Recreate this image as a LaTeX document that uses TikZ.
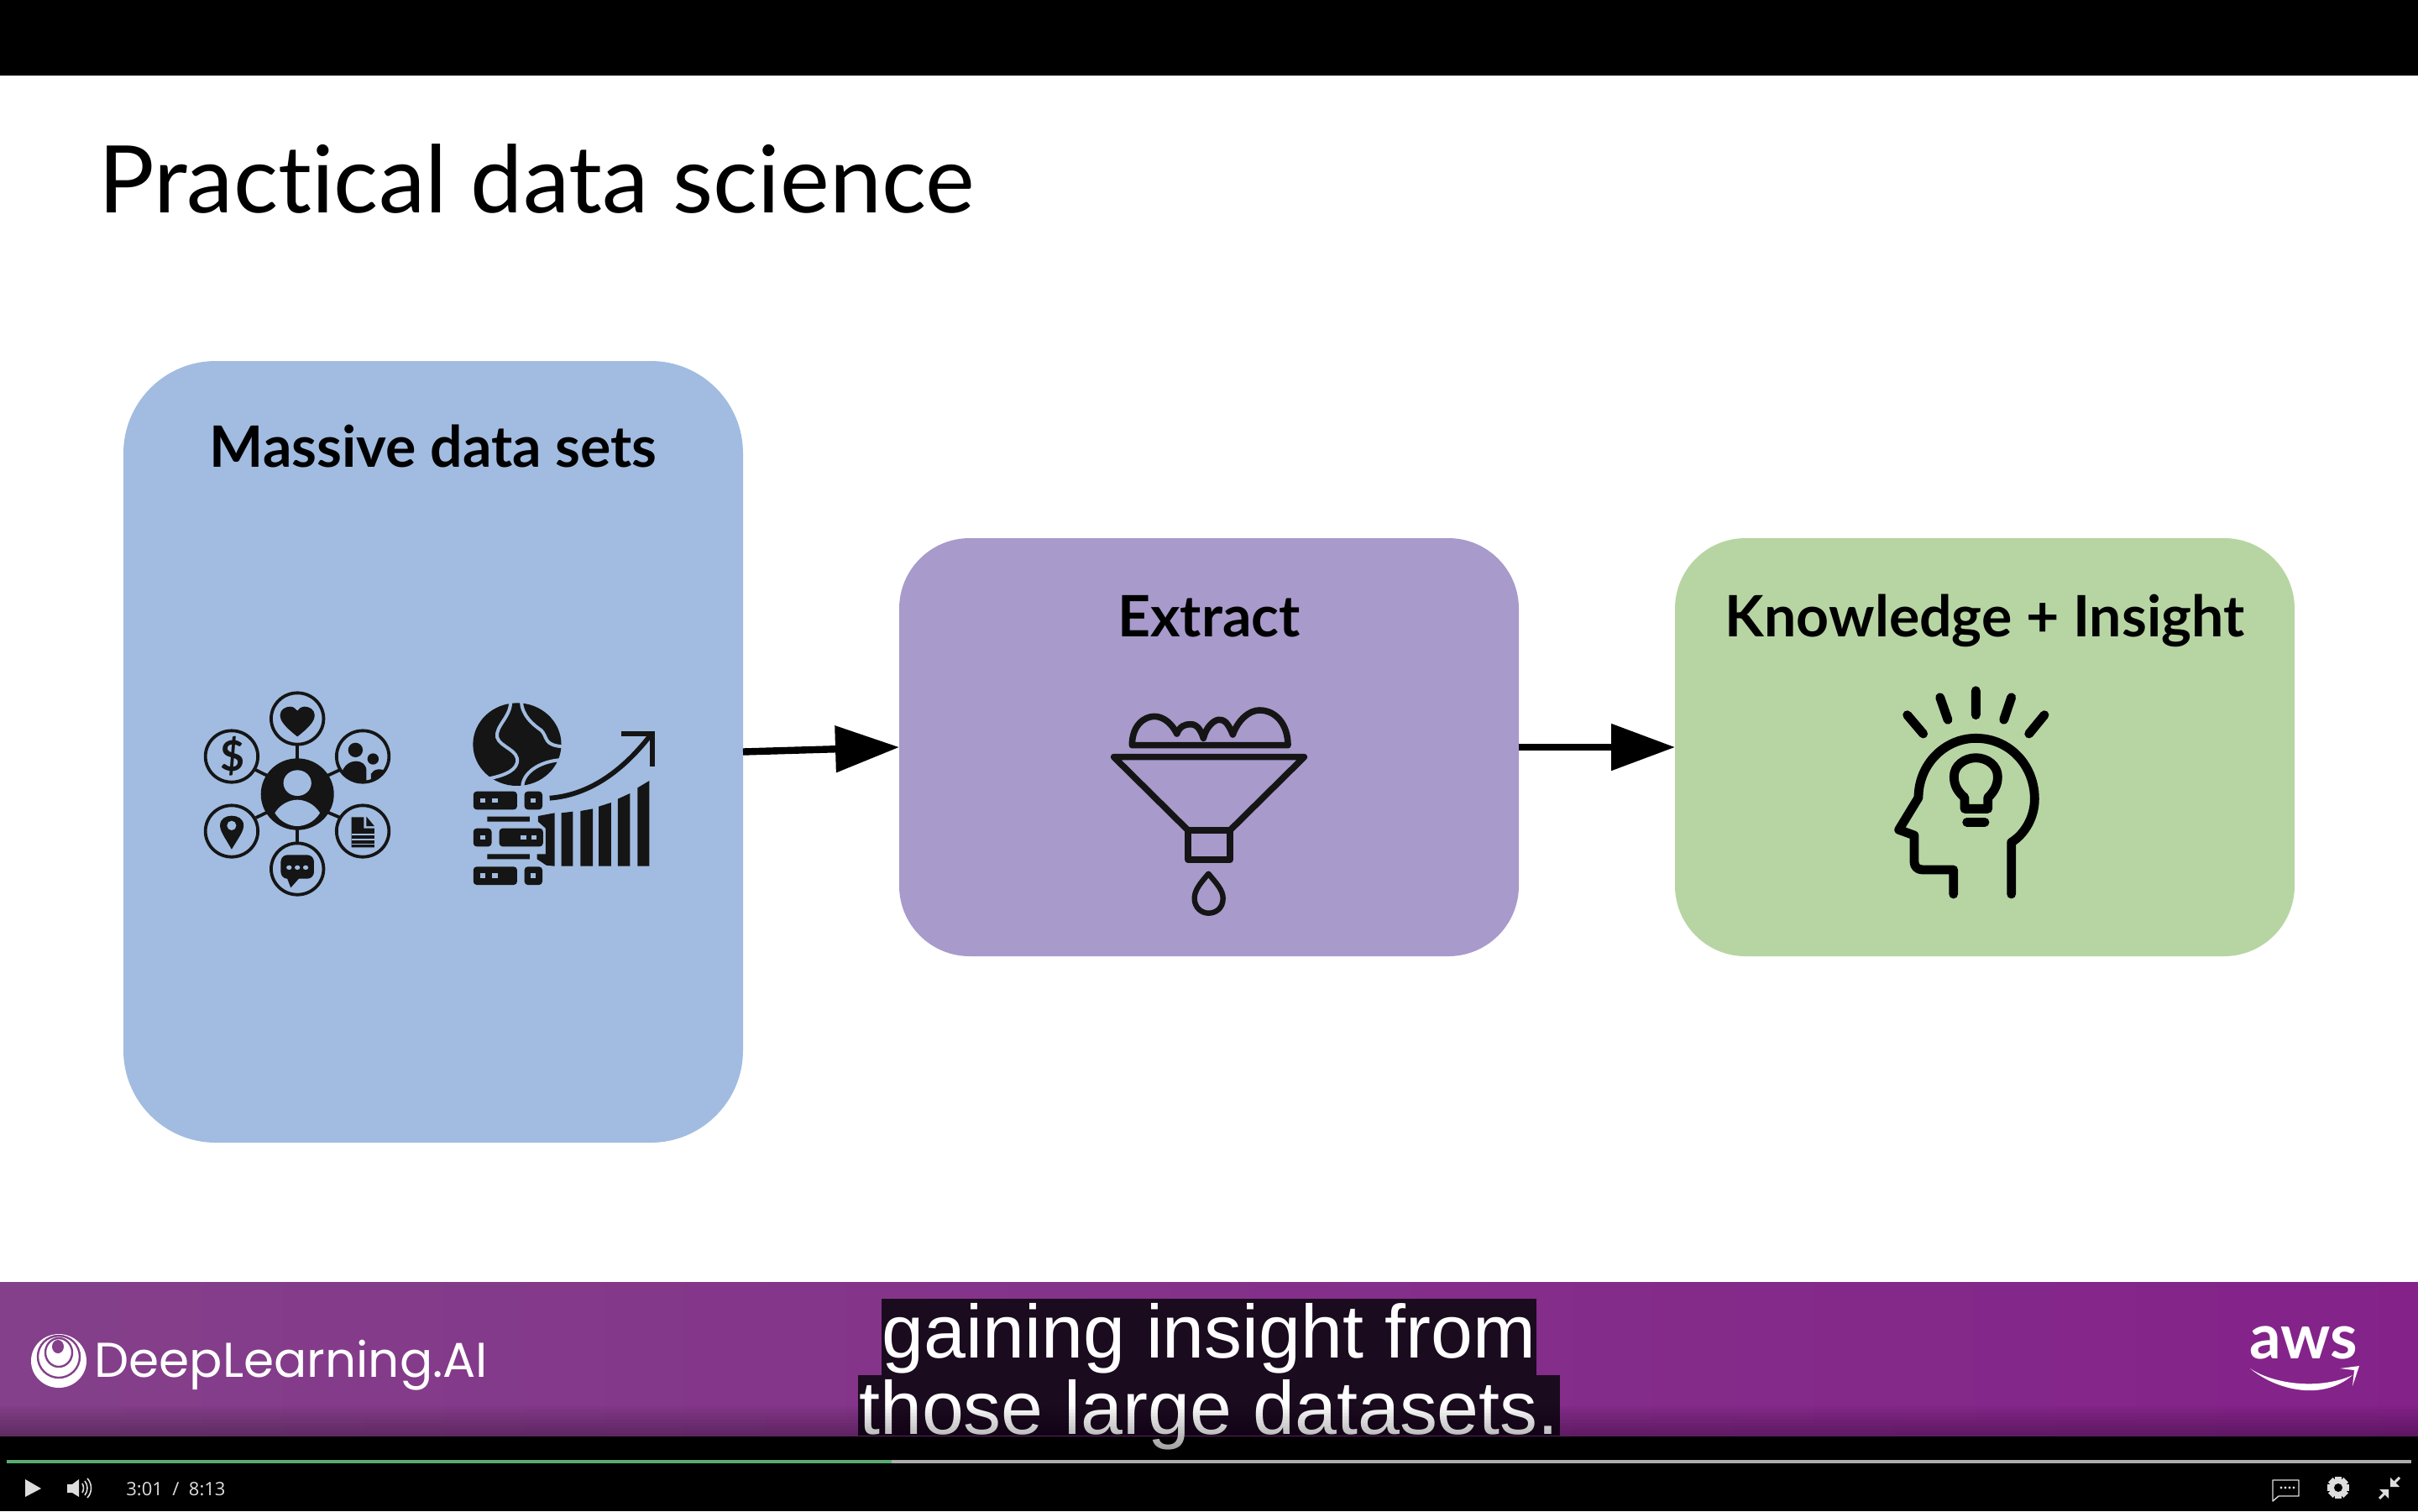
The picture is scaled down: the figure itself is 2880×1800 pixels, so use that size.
\documentclass[tikz,border=0pt]{standalone}
\usepackage{xcolor}
\usepackage{fontspec}
\usepackage{tikz}
\usetikzlibrary{arrows.meta}
\setmainfont{Lato}[Ligatures=CommonOff]
\newfontfamily\capfont{Liberation Sans}
\newfontfamily\logofont{Poppins}
\newfontfamily\playerfont{Open Sans}
\definecolor{boxblue}{HTML}{A1BCE0}
\definecolor{boxpurple}{HTML}{A89ACB}
\definecolor{boxgreen}{HTML}{B7D5A3}
\definecolor{bandleft}{HTML}{84408A}
\definecolor{bandright}{HTML}{84228A}
\definecolor{capback}{HTML}{1B0B1F}
\definecolor{inkblack}{HTML}{151515}
\definecolor{playerlight}{HTML}{DDDDDD}
\definecolor{progressgreen}{HTML}{5AAB72}
\tikzset{
  box/.style={inner sep=0pt,outer sep=0pt,rounded corners=#1},
  boxlabel/.style={inner sep=0pt,anchor=base,font=\bfseries\fontsize{34}{34}\selectfont},
  captext/.style={inner sep=0pt,anchor=base,text=white,font=\capfont\fontsize{44.9}{44.9}\selectfont},
  zoomhub/.style={shift={(200,790)},x=.1977pt,y=-.16667pt},
  zoomfunnel/.style={shift={(1280,820)},x=.16667pt,y=-.16667pt},
  zoomhead/.style={shift={(2220,800)},x=.16667pt,y=-.16667pt},
  ring/.style={draw=inkblack,line width=1.9pt},
  hole/.style={fill=boxblue},
  ink/.style={fill=inkblack}
}
\begin{document}
\begin{tikzpicture}[x=.5pt,y=-.5pt,>=latex]
\useasboundingbox (0,0) rectangle (2880,1800);
% frame, slide and band
\fill[black] (0,0) rectangle (2880,1800);
\fill[white] (0,90) rectangle (2880,1527);
\shade[left color=bandleft,right color=bandright] (0,1527) rectangle (2880,1710);

% title
\node[inner sep=0pt,anchor=base west,font=\fontsize{55.6}{55.6}\selectfont] (title) at (117,253) {Practical data science};

% the three boxes
\node[box=55pt,fill=boxblue,minimum width=369pt,minimum height=465.5pt] (massive) at (516,895.5) {};
\node[box=42pt,fill=boxpurple,minimum width=369pt,minimum height=249pt] (extract) at (1440,890) {};
\node[box=42pt,fill=boxgreen,minimum width=369pt,minimum height=249pt] (insight) at (2364,890) {};
\node[boxlabel] (massivelabel) at (516,556) {Massive data sets};
\node[boxlabel] (extractlabel) at (1440,758) {Extract};
\node[boxlabel] (insightlabel) at (2364,758) {Knowledge + Insight};
\draw[-{Triangle[length=38pt,width=27pt]},line width=4.2pt] (massive.east) -- (extract.west);
\draw[-{Triangle[length=38pt,width=27pt]},line width=4.2pt] (extract.east) -- (insight.west);

% hub icon
\begin{scope}[zoomhub]
\foreach \cx/\cy in {390/198,192/333,587/333,192/600,587/600,390/735}
  \draw[ring] (\cx,\cy) ellipse [x radius=79,y radius=92];
\draw[ring] (390,290) -- (390,345) (390,590) -- (390,645);
\draw[ring] (262,380) -- (300,402) (480,402) -- (520,380);
\draw[ring] (265,552) -- (300,532) (480,532) -- (520,552);
\fill[ink] (390,468) ellipse [x radius=110,y radius=128];
\fill[hole] (390,428) ellipse [x radius=42,y radius=46];
\fill[hole] (322,535) .. controls (340,500) and (370,488) .. (390,488) .. controls (410,488) and (440,500) .. (458,535) .. controls (440,570) and (410,582) .. (390,582) .. controls (370,582) and (340,570) .. cycle;
% heart
\fill[ink] (390,262) .. controls (350,225) and (338,205) .. (338,185) .. controls (338,165) and (355,155) .. (368,155) .. controls (378,155) and (385,162) .. (390,170) .. controls (395,162) and (402,155) .. (412,155) .. controls (425,155) and (442,165) .. (442,185) .. controls (442,205) and (430,225) .. cycle;
% dollar
\node[inner sep=0pt,text=inkblack,font=\bfseries\fontsize{25}{25}\selectfont] (dollar) at (194,333) {\$};
% people
\begin{scope}
\clip (587,333) ellipse [x radius=79,y radius=92];
\fill[ink] (565,310) ellipse [x radius=22,y radius=26];
\fill[ink] (618,342) ellipse [x radius=17,y radius=20];
\fill[ink] (522,430) -- (522,395) .. controls (530,365) and (548,350) .. (565,350) .. controls (585,350) and (598,362) .. (598,385) -- (598,430) -- cycle;
\fill[ink] (612,430) -- (612,395) .. controls (620,378) and (640,372) .. (665,390) -- (665,430) -- cycle;
\end{scope}
% pin
\fill[ink] (192,665) .. controls (170,620) and (157,600) .. (157,580) .. controls (157,555) and (175,545) .. (192,545) .. controls (210,545) and (228,555) .. (228,580) .. controls (228,600) and (215,620) .. cycle;
\fill[hole] (192,580) ellipse [x radius=14,y radius=17];
% document
\fill[ink] (553,550) -- (590,550) -- (590,590) -- (622,590) -- (622,658) -- (553,658) -- cycle;
\fill[ink] (598,548) -- (622,582) -- (598,582) -- cycle;
\draw[boxblue,line width=.7pt] (553,612) -- (622,612) (553,630) -- (622,630) (553,646) -- (622,646);
% chat
\fill[ink,rounded corners=4pt] (340,685) rectangle (440,770);
\fill[ink] (358,765) -- (370,802) -- (398,765) -- cycle;
\foreach \cx in {365,390,415}
  \fill[hole] (\cx,730) ellipse [x radius=8,y radius=8];
\end{scope}

% globe, servers and growth chart
\begin{scope}[zoomhub]
\begin{scope}
\clip (900,130) rectangle (1200,435);
\fill[ink] (1052,290) ellipse [x radius=133,y radius=148];
\draw[boxblue,line width=2pt] (1032,135) .. controls (1035,190) and (985,225) .. (992,265) .. controls (1000,300) and (1060,310) .. (1052,355) .. controls (1045,390) and (1000,405) .. (955,415);
\draw[boxblue,line width=2pt] (1065,135) .. controls (1065,185) and (1100,220) .. (1125,240) .. controls (1145,265) and (1130,295) .. (1195,298);
\draw[boxblue,line width=2pt] (1068,440) .. controls (1070,385) and (1130,345) .. (1195,345);
\fill[hole] (1125,440) .. controls (1155,410) and (1170,385) .. (1172,362) -- (1200,345) -- (1200,440) -- cycle;
\end{scope}
\foreach \ry in {458,727} {
  \fill[ink,rounded corners=2pt] (920,\ry) rectangle (1052,\ry+65);
  \fill[ink,rounded corners=2pt] (1074,\ry) rectangle (1128,\ry+65);
  \fill[hole] (940,\ry+24) rectangle (957,\ry+41);
  \fill[hole] (977,\ry+24) rectangle (994,\ry+41);
  \fill[hole] (1092,\ry+24) rectangle (1109,\ry+41);
}
\fill[ink,rounded corners=2pt] (920,590) rectangle (975,655);
\fill[ink,rounded corners=2pt] (998,590) rectangle (1130,655);
\fill[hole] (940,614) rectangle (957,631);
\fill[hole] (1062,614) rectangle (1079,631);
\fill[hole] (1094,614) rectangle (1111,631);
\fill[ink] (962,548) rectangle (1090,566) (962,682) rectangle (1090,700);
\fill[ink] (1115,546) -- (1165,535) -- (1165,725) -- (1140,722) -- (1112,700) -- (1112,682) -- (1138,682) -- (1138,590) -- (1115,566) -- cycle;
\fill[ink] (1185,535) -- (1220,530) -- (1220,725) -- (1185,725) -- cycle;
\fill[ink] (1243,528) -- (1280,520) -- (1280,725) -- (1243,725) -- cycle;
\fill[ink] (1298,512) -- (1335,498) -- (1335,725) -- (1298,725) -- cycle;
\fill[ink] (1355,485) -- (1392,465) -- (1392,725) -- (1355,725) -- cycle;
\fill[ink] (1415,445) -- (1450,420) -- (1450,725) -- (1415,725) -- cycle;
\draw[inkblack,line width=2.9pt] (1150,482) .. controls (1280,470) and (1380,370) .. (1455,255);
\draw[inkblack,line width=2.9pt] (1365,253) -- (1460,253) -- (1460,368);
\end{scope}

% funnel icon
\begin{scope}[zoomfunnel,draw=inkblack,line width=3.8pt,line join=round,line cap=round]
\draw (205,203) -- (762,203) .. controls (762,130) and (720,78) .. (660,78) .. controls (625,78) and (585,110) .. (565,165) .. controls (545,115) and (530,112) .. (515,112) .. controls (500,112) and (470,135) .. (460,178) .. controls (445,130) and (425,128) .. (412,128) .. controls (395,128) and (375,135) .. (365,162) .. controls (350,130) and (320,100) .. (285,100) .. controls (250,100) and (205,130) .. cycle;
\draw (140,245) -- (820,245) -- (555,507) -- (405,507) -- cycle;
\draw (405,507) rectangle (555,612);
\draw[line width=3.2pt] (478,662) .. controls (450,695) and (428,720) .. (428,750) .. controls (428,785) and (455,803) .. (478,803) .. controls (505,803) and (530,785) .. (530,750) .. controls (530,720) and (505,695) .. cycle;
\end{scope}

% head icon
\begin{scope}[zoomhead,draw=black,line width=5.4pt,line join=round,line cap=round]
\draw (400,68) -- (400,155) (272,92) -- (300,172) (527,92) -- (500,172);
\draw (155,155) -- (212,222) (645,155) -- (590,222);
\draw (320,795) -- (320,708) -- (210,708) .. controls (190,708) and (180,695) .. (180,680) -- (180,585) -- (125,565) -- (195,450) .. controls (195,330) and (290,238) .. (400,238) .. controls (520,238) and (610,335) .. (610,455) .. controls (610,520) and (575,580) .. (527,610) -- (527,795);
\draw (360,490) -- (360,450) .. controls (330,425) and (322,400) .. (322,375) .. controls (322,335) and (360,308) .. (400,308) .. controls (440,308) and (478,335) .. (478,375) .. controls (478,400) and (470,425) .. (443,450) -- (443,490) -- cycle;
\draw (368,538) -- (432,538);
\end{scope}

% logos
\fill[white] (70,1621) ellipse [x radius=33,y radius=32];
\draw[bandleft,line width=1.2pt] (70,1616) ellipse [x radius=25,y radius=25];
\draw[bandleft,line width=1.2pt] (70,1611) ellipse [x radius=16,y radius=17];
\fill[bandleft] (69,1604) ellipse [x radius=7,y radius=8];
\node[inner sep=0pt,anchor=base west,text=white,font=\logofont\fontsize{29.1}{29.1}\selectfont] (deeplearning) at (112,1640) {DeepLearning.AI};
\node[inner sep=0pt,anchor=base,text=white,font=\bfseries\fontsize{37}{37}\selectfont] (aws) at (2744,1618) {aws};
\fill[white] (2680,1630) .. controls (2710,1655) and (2765,1670) .. (2802,1638) .. controls (2765,1655) and (2710,1650) .. cycle;
\fill[white] (2787,1630) -- (2810,1627) -- (2802,1651) -- (2804,1632) -- cycle;

% captions
\fill[capback] (1050,1547) rectangle (1830,1638);
\fill[capback] (1022,1638) rectangle (1858,1710);
\node[captext] (capone) at (1440,1617) {gaining insight from};
\node[captext] (captwo) at (1440,1708) {those large datasets.};

% fade of the player over the video
\foreach \i in {0,...,13}
  \fill[black,opacity=.03] (0,{1675+4*\i}) rectangle (2880,1735);

% player
\fill[progressgreen] (8,1739) rectangle (1062,1743);
\fill[black!32] (1062,1739) rectangle (2872,1743);
\fill[playerlight] (30,1762) -- (49,1773) -- (30,1783) -- cycle;
\fill[playerlight] (80,1768) -- (86,1768) -- (94,1762) -- (94,1783) -- (86,1778) -- (80,1778) -- cycle;
\draw[playerlight,line width=.8pt] (98,1767) .. controls (100,1770) and (100,1775) .. (98,1778);
\draw[playerlight,line width=.8pt] (101,1764) .. controls (105,1769) and (105,1776) .. (101,1781);
\draw[playerlight,line width=.8pt] (104,1761) .. controls (110,1767) and (110,1778) .. (104,1784);
\node[inner sep=0pt,anchor=base west,text=playerlight,font=\playerfont\fontsize{11}{11}\selectfont] (time) at (150,1781) {3:01\ \ /\ \ 8:13};
\draw[playerlight,line width=.7pt,line join=round] (2707,1763) -- (2738,1763) -- (2738,1782) -- (2714,1782) -- (2707,1788) -- cycle;
\foreach \cx in {2717,2722,2727,2732}
  \fill[playerlight] (\cx,1772) circle (.8pt);
\foreach \a in {0,45,90,135}
  \fill[playerlight,rotate around={\a:(2785,1772)}] (2781,1759) rectangle (2789,1785);
\fill[playerlight] (2785,1772) circle (5pt);
\fill[black] (2785,1772) circle (2.5pt);
\draw[playerlight,line width=1.5pt] (2858,1760) -- (2851,1767);
\fill[playerlight] (2847,1771) -- (2847,1760) -- (2858,1771) -- cycle;
\draw[playerlight,line width=1.5pt] (2834,1785) -- (2841,1778);
\fill[playerlight] (2845,1774) -- (2845,1785) -- (2834,1774) -- cycle;
\end{tikzpicture}
\end{document}
